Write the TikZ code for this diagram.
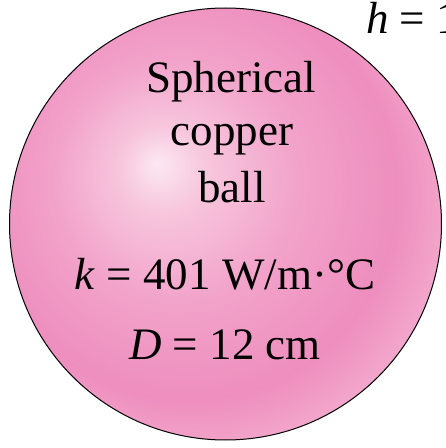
\documentclass[tikz,border=0pt]{standalone}
\usepackage{fontspec}
\setmainfont{Liberation Serif}
\definecolor{pkA}{HTML}{FCE8F2}
\definecolor{pkB}{HTML}{F7C6DD}
\definecolor{pkC}{HTML}{F2A3CA}
\definecolor{pkD}{HTML}{EE8EBE}
\definecolor{pkE}{HTML}{F4AFD0}
\pgfdeclareradialshading{pinkball}{\pgfqpoint{-8bp}{7bp}}{color(0bp)=(pkA); color(5bp)=(pkB); color(14bp)=(pkC); color(24bp)=(pkD); color(31bp)=(pkE); color(50bp)=(pkE)}
\tikzset{
  lbl/.style={anchor=base, inner sep=0pt, font=\fontsize{45}{50}\selectfont},
}
\begin{document}
\begin{tikzpicture}[x=1pt,y=1pt]
\useasboundingbox (0,0) rectangle (446,448);
\clip (0,0) rectangle (446,448);
\path[fill=white] (0,0) rectangle (446,448);
\shade[shading=pinkball, draw=black, line width=1pt] (225.5,224) circle[radius=216] coordinate (ball);
\node[lbl] (t1) at (231,355) {Spherical};
\node[lbl] (t2) at (232,302) {copper};
\node[lbl] (t3) at (232,245) {ball};
\node[lbl] (t4) at (225,158) {\textit{k} = 401 W/m·°C};
\node[lbl] (t5) at (225,88) {\textit{D} = 12 cm};
\node[lbl, anchor=base west] (h) at (366,414) {\textit{h} = 1};
\end{tikzpicture}
\end{document}
